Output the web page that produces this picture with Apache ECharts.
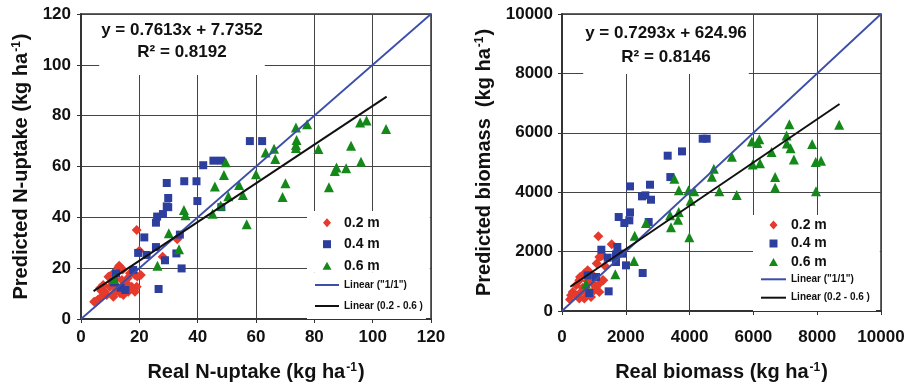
<!DOCTYPE html>
<html>
<head>
<meta charset="utf-8">
<script src="https://cdn.jsdelivr.net/npm/echarts@6/dist/echarts.min.js"></script>
<style>html,body{margin:0;padding:0;background:#fff}#c{width:916px;height:386px}</style>
</head>
<body>
<div id="c"></div>
<script>
// ---------- Data ----------
const nTicks = [0, 20, 40, 60, 80, 100, 120];
const bTicks = [0, 2000, 4000, 6000, 8000, 10000];

const nRed = [[4.5,6.8],[5.9,7.7],[7.1,8.8],[8.8,9.4],[11.1,8.8],[13.4,10.1],[14.5,9.4],[16.2,10.7],[12.2,11.4],[8.2,10.7],[6.5,12.1],[7.6,13.4],[9.9,12.7],[10.5,14.7],[14.0,15.3],[15.7,14.0],[17.4,12.7],[19.1,12.7],[18.5,10.7],[9.4,16.6],[11.1,18.0],[13.1,21.0],[12.8,20.3],[14.3,19.5],[16.8,18.0],[18.5,17.3],[20.5,17.3],[19.3,16.7],[9.9,16.7],[10.8,9.6],[12.0,12.8],[15.0,12.0],[5.2,7.0],[19.1,35.0],[20.0,26.9],[28.0,24.5],[33.0,31.4],[16.0,16.0],[11.8,15.5],[7.0,11.0]];
const nBlue = [[57.9,70.0],[62.1,70.0],[41.9,60.5],[45.4,62.3],[48.0,62.3],[29.4,53.5],[35.4,54.2],[39.6,54.2],[39.9,46.4],[29.9,47.6],[29.4,44.3],[29.9,44.0],[28.1,41.3],[26.1,40.3],[25.7,37.9],[21.7,32.1],[33.9,33.2],[25.7,28.3],[19.6,26.0],[22.5,25.2],[32.7,25.8],[28.8,23.1],[34.5,19.9],[26.6,11.8],[48.1,44.0],[17.9,19.3],[12.0,17.9],[11.2,14.4],[13.6,12.3],[15.2,11.4]];
const nGreen = [[73.7,75.3],[77.5,76.6],[95.7,77.3],[97.9,78.1],[104.6,74.8],[73.9,70.4],[73.7,68.5],[73.7,67.3],[66.2,67.0],[63.3,65.5],[66.6,63.0],[81.4,66.9],[92.6,68.2],[96.0,61.9],[90.9,59.3],[87.6,59.6],[87.0,58.2],[85.0,51.8],[70.1,53.4],[69.1,48.0],[60.0,57.0],[49.6,61.7],[49.0,56.7],[45.9,52.1],[54.2,52.7],[55.5,48.8],[50.5,48.3],[47.9,44.7],[45.1,41.4],[56.8,37.3],[35.3,42.9],[35.8,40.8],[30.1,33.7],[33.6,27.4],[26.2,21.0],[11.4,15.7]];
const nOneToOne = [[0,0],[120,120]];
const nFit = [[4.3,11.0],[104.8,87.5]];

const bRed = [[1139,2515],[1557,2246],[1223,1842],[1170,1818],[1087,1596],[1348,1515],[1275,1875],[805,1370],[700,1259],[962,1202],[1275,1034],[1296,1034],[543,1034],[439,865],[962,923],[1066,808],[335,640],[282,529],[439,529],[596,640],[752,697],[857,586],[1013,697],[1170,640],[543,418],[700,418],[909,471],[250,390],[826,1313],[564,1145],[650,780],[1000,1100],[1150,900],[800,1000]];
const bBlue = [[4410,5801],[4535,5801],[3313,5229],[3762,5374],[3396,4510],[2132,4196],[2759,4252],[2508,3860],[2613,3893],[2790,3747],[2132,3321],[1777,3164],[2111,3052],[1954,2962],[2717,2996],[1233,2064],[1735,2154],[1432,1795],[1693,1907],[1902,1930],[1693,1649],[2007,1537],[2529,1279],[805,1201],[1066,1144],[1463,662],[857,606]];
const bGreen = [[7127,6290],[8690,6270],[5950,5710],[6186,5780],[6120,5660],[7040,5910],[7050,5636],[7165,5480],[7842,5620],[6570,5352],[5325,5195],[7268,5100],[7952,5016],[8120,5060],[5977,4933],[6207,4972],[4760,4792],[4698,4522],[6682,4511],[6682,4148],[7963,4035],[3522,4456],[3663,4063],[3966,4063],[4143,4035],[4932,4035],[5476,3906],[4033,3715],[3390,3221],[3660,3332],[3636,3075],[3417,2816],[2633,2962],[3992,2480],[2278,2536],[2257,1683],[1672,1234],[752,920]];
const bOneToOne = [[0,0],[10000,10000]];
const bFit = [[260,815],[8700,6970]];

const seriesNames = ['0.2 m', '0.4 m', '0.6 m', 'Linear ("1/1")', 'Linear (0.2 - 0.6 )'];
const nEquation = ['y = 0.7613x + 7.7352', 'R² = 0.8192'];
const bEquation = ['y = 0.7293x + 624.96', 'R² = 0.8146'];

// ---------- Styles ----------
const FONT = '"Liberation Sans", Arial, Helvetica, sans-serif';
const TXT = '#111';
const RED = '#e53a2c', BLUE = '#2d3f9e', GREEN = '#14891a', LINEBLUE = '#3c4ea8', BLACK = '#111';

// legend icon paths sized to the full icon box (w x 9) so they are not stretched
function iconPaths(w) {
  const c = w / 2;
  const frame = 'M0,0M' + w + ',9';
  return {
    diamond: 'path://' + frame + 'M' + c + ',0L' + (c + 4) + ',4.5L' + c + ',9L' + (c - 4) + ',4.5Z',
    rect: 'path://' + frame + 'M' + (c - 4) + ',0.5L' + (c + 4) + ',0.5L' + (c + 4) + ',8.5L' + (c - 4) + ',8.5Z',
    triangle: 'path://' + frame + 'M' + c + ',0.5L' + (c + 4.5) + ',8.5L' + (c - 4.5) + ',8.5Z',
    line: 'path://' + frame + 'M0,3.5L' + w + ',3.5L' + w + ',5.5L0,5.5Z'
  };
}

function nameRich() {
  return {
    fontFamily: FONT, fontWeight: 'bold', fontSize: 20, color: TXT,
    rich: {
      t: { fontFamily: FONT, fontWeight: 'bold', fontSize: 20, color: TXT },
      s: { fontFamily: FONT, fontWeight: 'bold', fontSize: 12, color: TXT, verticalAlign: 'top', padding: [0, 1, 0, 1] }
    }
  };
}

function valueAxis(min, max, interval, margin, extra) {
  return Object.assign({
    type: 'value', min: min, max: max, interval: interval,
    axisLine: { show: true, onZero: false, lineStyle: { color: '#333', width: 2 } },
    axisTick: { show: true, length: 4, lineStyle: { color: '#333', width: 1 } },
    axisLabel: { fontFamily: FONT, fontWeight: 'bold', fontSize: 17, color: TXT, margin: margin,
      showMinLabel: true, showMaxLabel: true, formatter: function (v) { return String(v); } },
    splitLine: { show: true, lineStyle: { color: '#444', width: 1 } },
    nameLocation: 'middle',
    nameTextStyle: nameRich()
  }, extra);
}

function titleBox(lines, center, top, pad, gap) {
  return {
    text: lines[0], subtext: lines[1],
    left: center, top: top, textAlign: 'center',
    padding: pad, itemGap: gap,
    backgroundColor: '#fff',
    textStyle: { fontFamily: FONT, fontWeight: 'bold', fontSize: 17, color: TXT },
    subtextStyle: { fontFamily: FONT, fontWeight: 'bold', fontSize: 17, color: TXT }
  };
}

function legendBox(items, left, top, pad, gap, fontSize, itemWidth) {
  return {
    data: items, orient: 'vertical', left: left, top: top, align: 'left',
    padding: pad, itemGap: gap, itemWidth: itemWidth, itemHeight: 9,
    backgroundColor: '#fff', selectedMode: false,
    textStyle: { fontFamily: FONT, fontWeight: 'bold', fontSize: fontSize, color: TXT }
  };
}
function markerItems(w) {
  const p = iconPaths(w);
  return [
    { name: seriesNames[0], icon: p.diamond },
    { name: seriesNames[1], icon: p.rect },
    { name: seriesNames[2], icon: p.triangle }
  ];
}
function lineItems(w) {
  const p = iconPaths(w);
  return [
    { name: seriesNames[3], icon: p.line },
    { name: seriesNames[4], icon: p.line }
  ];
}

function scatter(name, data, sym, size, color, idx) {
  return { type: 'scatter', name: name, data: data, symbol: sym, symbolSize: size,
    xAxisIndex: idx, yAxisIndex: idx, itemStyle: { color: color, opacity: 1 }, z: 2 };
}
function line(name, data, color, width, idx) {
  return { type: 'line', name: name, data: data, symbol: 'none', showSymbol: false,
    xAxisIndex: idx, yAxisIndex: idx, lineStyle: { color: color, width: width }, itemStyle: { color: color }, z: 3 };
}

const chart = echarts.init(document.getElementById('c'), null, { renderer: 'canvas' });
chart.setOption({
  animation: false,
  backgroundColor: '#fff',
  title: [
    titleBox(nEquation, 180, 15, [6.5, 2, 14.5, 2], 5),
    titleBox(bEquation, 664, 15, [9.5, 2, 8.5, 2], 7)
  ],
  legend: [
    legendBox(markerItems(24), 307, 211, [4.7, 50, 0, 8], 7.5, 14, 24),
    legendBox(lineItems(24), 307, 272.7, [7.3, 3, 8, 8], 11, 10, 24),
    legendBox(markerItems(25), 753, 215, [3, 53, 0, 8], 4.5, 14, 25),
    legendBox(lineItems(25), 753, 269, [5.3, 6, 8.3, 8], 8.4, 10, 25)
  ],
  grid: [
    { left: 81, top: 14, width: 350, height: 305, show: true, borderColor: '#333', borderWidth: 1.5, outerBoundsMode: 'none', containLabel: false },
    { left: 562, top: 14, width: 319, height: 297, show: true, borderColor: '#333', borderWidth: 1.5, outerBoundsMode: 'none', containLabel: false }
  ],
  xAxis: [
    valueAxis(nTicks[0], nTicks[nTicks.length - 1], nTicks[1] - nTicks[0], 10, { gridIndex: 0, name: '{t|Real N-uptake (kg ha}{s|-1}{t|)}', nameGap: 43 }),
    valueAxis(bTicks[0], bTicks[bTicks.length - 1], bTicks[1] - bTicks[0], 18, { gridIndex: 1, name: '{t|Real biomass (kg ha}{s|-1}{t|)}', nameGap: 51 })
  ],
  yAxis: [
    valueAxis(nTicks[0], nTicks[nTicks.length - 1], nTicks[1] - nTicks[0], 10, { gridIndex: 0, name: '{t|Predicted N-uptake (kg ha}{s|-1}{t|)}', nameGap: 50 }),
    valueAxis(bTicks[0], bTicks[bTicks.length - 1], bTicks[1] - bTicks[0], 9, { gridIndex: 1, name: '{t|Predicted biomass  (kg ha}{s|-1}{t|)}', nameGap: 68 })
  ],
  series: [
    scatter(seriesNames[0], nRed, 'diamond', 10, RED, 0),
    scatter(seriesNames[1], nBlue, 'rect', 8, BLUE, 0),
    scatter(seriesNames[2], nGreen, 'triangle', 10, GREEN, 0),
    line(seriesNames[3], nOneToOne, LINEBLUE, 1.8, 0),
    line(seriesNames[4], nFit, BLACK, 2, 0),
    scatter(seriesNames[0], bRed, 'diamond', 10, RED, 1),
    scatter(seriesNames[1], bBlue, 'rect', 8, BLUE, 1),
    scatter(seriesNames[2], bGreen, 'triangle', 10, GREEN, 1),
    line(seriesNames[3], bOneToOne, LINEBLUE, 1.8, 1),
    line(seriesNames[4], bFit, BLACK, 2, 1)
  ]
});
</script>
</body>
</html>
